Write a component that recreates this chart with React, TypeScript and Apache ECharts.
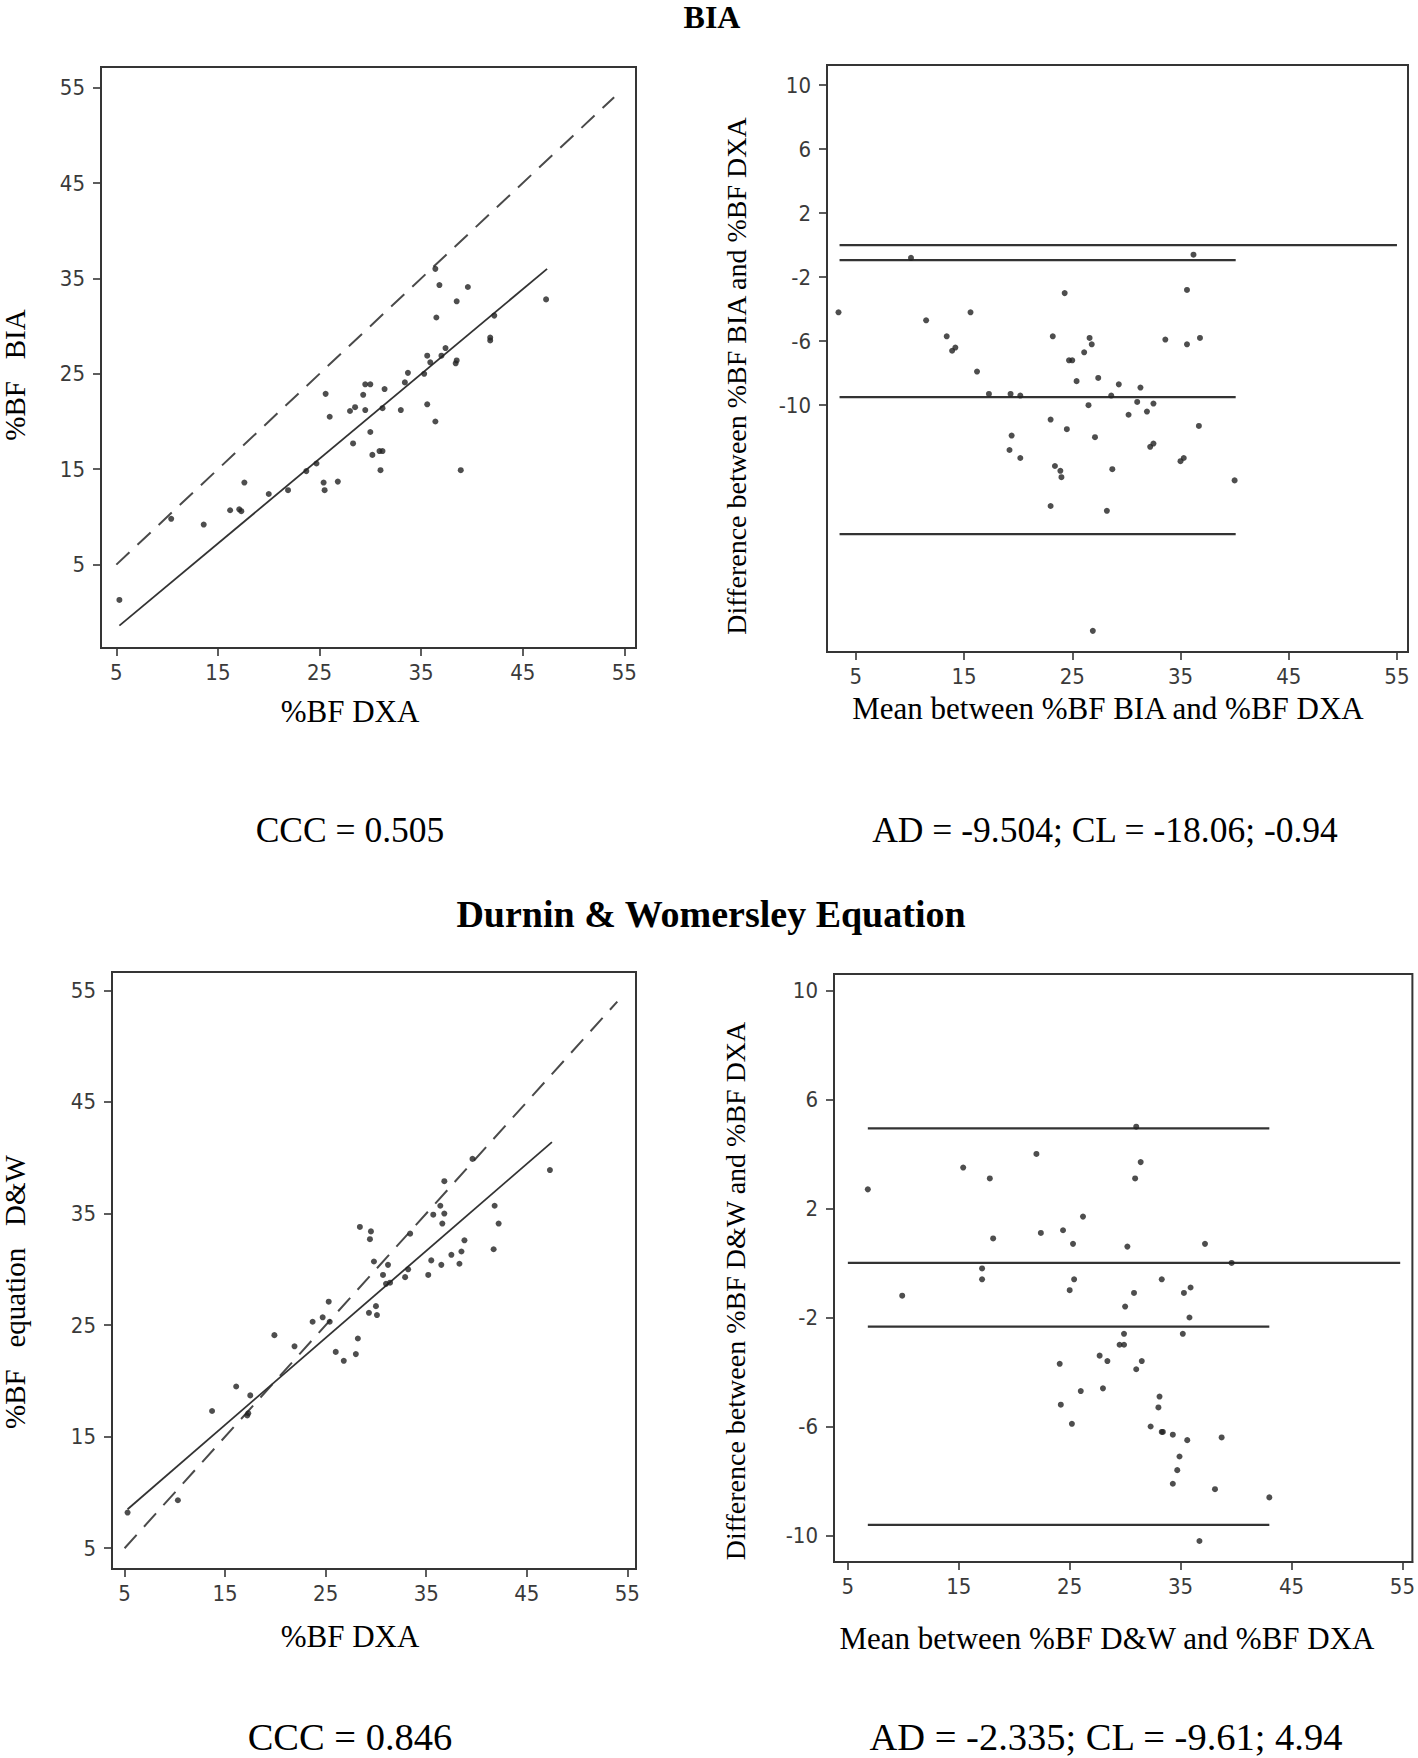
import React, { useEffect, useRef } from "react";
import * as echarts from "echarts";

// ---------- DATA ----------
const tickValuesBF = [5, 15, 25, 35, 45, 55];
const tickValuesBiaDiff = [-10, -6, -2, 2, 6, 10];
const tickValuesDwDiff = [-10, -6, -2, 2, 6, 10];

// Panel A: %BF DXA (x) vs %BF BIA (y)
const biaVsDxa: number[][] = [
  [5.3, 1.3], [10.4, 9.8], [13.6, 9.2], [16.2, 10.7], [17.1, 10.8], [17.3, 10.6], [17.6, 13.6],
  [20.0, 12.4], [21.9, 12.8], [23.7, 14.8], [24.7, 15.6], [25.4, 13.6], [25.5, 12.8], [26.8, 13.7],
  [25.6, 22.9], [26.0, 20.5], [28.0, 21.1], [28.5, 21.5], [28.3, 17.7], [29.3, 22.8], [29.5, 23.9],
  [30.0, 23.9], [29.5, 21.2], [30.0, 18.9], [30.2, 16.5], [30.9, 16.9], [31.2, 16.9], [31.0, 14.9],
  [31.4, 23.4], [31.2, 21.4], [33.0, 21.2], [33.4, 24.1], [33.7, 25.1], [35.3, 25.0], [35.6, 21.8],
  [35.6, 26.9], [35.9, 26.2], [36.4, 20.0], [36.4, 36.0], [36.5, 30.9], [36.8, 34.3], [37.0, 26.9],
  [37.4, 27.7], [38.4, 26.1], [38.5, 26.4], [38.5, 32.6], [38.9, 14.9], [39.6, 34.1], [41.8, 28.5],
  [41.8, 28.8], [42.2, 31.1], [47.3, 32.8],
];
const biaFitLine: number[][] = [[5.3, -1.4], [47.4, 36.0]];
const identityLine: number[][] = [[5, 5], [54, 54]];

// Panel B: Bland-Altman BIA
const biaBlandAltman: number[][] = [
  [3.4, -4.2], [10.1, -0.8], [11.5, -4.7], [13.4, -5.7], [13.9, -6.6], [14.2, -6.4], [15.6, -4.2],
  [16.2, -7.9], [17.3, -9.3], [19.3, -9.3], [20.2, -9.4], [19.4, -11.9], [19.2, -12.8], [20.2, -13.3],
  [23.0, -10.9], [23.0, -16.3], [23.2, -5.7], [23.4, -13.8], [23.9, -14.1], [24.0, -14.5], [24.3, -3.0],
  [24.5, -11.5], [24.7, -7.2], [25.0, -7.2], [25.4, -8.5], [26.1, -6.7], [26.5, -10.0], [26.6, -5.8],
  [26.8, -6.2], [26.9, -24.1], [27.1, -12.0], [27.4, -8.3], [28.2, -16.6], [28.6, -9.4], [28.7, -14.0],
  [29.3, -8.7], [30.2, -10.6], [31.0, -9.8], [31.3, -8.9], [31.9, -10.4], [32.2, -12.6], [32.5, -12.4],
  [32.5, -9.9], [33.6, -5.9], [35.0, -13.5], [35.3, -13.3], [35.6, -2.8], [35.6, -6.2], [36.2, -0.6],
  [36.7, -11.3], [36.8, -5.8], [40.0, -14.7],
];
const biaZeroRange = [3.5, 55];
const biaLimitRange = [3.5, 40.1];
const biaMeanDiff = -9.504;
const biaLowerLimit = -18.06;
const biaUpperLimit = -0.94;

// Panel C: %BF DXA (x) vs %BF D&W (y)
const dwVsDxa: number[][] = [
  [5.3, 8.2], [10.3, 9.3], [13.7, 17.3], [16.1, 19.5], [17.2, 16.9], [17.3, 17.1], [17.5, 18.7],
  [19.9, 24.1], [21.9, 23.1], [23.7, 25.3], [24.7, 25.7], [25.3, 27.1], [25.4, 25.3], [26.0, 22.6],
  [26.8, 21.8], [28.0, 22.4], [28.2, 23.8], [28.4, 33.8], [29.4, 32.7], [29.5, 33.4], [29.3, 26.1],
  [30.0, 26.7], [30.1, 25.9], [29.8, 30.7], [30.7, 29.5], [31.2, 30.4], [31.0, 28.7], [31.4, 28.8],
  [32.9, 29.3], [33.2, 30.0], [33.4, 33.2], [35.2, 29.5], [35.5, 30.8], [35.7, 34.9], [36.4, 35.7],
  [36.5, 30.4], [36.6, 34.1], [36.8, 35.0], [36.8, 37.9], [37.5, 31.3], [38.3, 30.5], [38.5, 31.6],
  [38.8, 32.6], [39.6, 39.9], [41.7, 31.8], [41.8, 35.7], [42.2, 34.1], [47.3, 38.9],
];
const dwFitLine: number[][] = [[5.3, 8.5], [47.5, 41.4]];

// Panel D: Bland-Altman D&W
const dwBlandAltman: number[][] = [
  [6.8, 2.7], [9.9, -1.2], [15.4, 3.5], [17.1, -0.2], [17.1, -0.6], [17.8, 3.1], [18.1, 0.9],
  [22.0, 4.0], [22.4, 1.1], [24.1, -3.7], [24.2, -5.2], [24.4, 1.2], [25.0, -1.0], [25.2, -5.9],
  [25.3, 0.7], [25.4, -0.6], [26.0, -4.7], [26.2, 1.7], [27.7, -3.4], [28.0, -4.6], [28.4, -3.6],
  [29.5, -3.0], [29.9, -2.6], [29.9, -3.0], [30.0, -1.6], [30.2, 0.6], [30.8, -1.1], [30.9, 3.1],
  [31.0, 5.0], [31.0, -3.9], [31.4, 3.7], [31.5, -3.6], [32.3, -6.0], [33.0, -5.3], [33.1, -4.9],
  [33.3, -0.6], [33.3, -6.2], [33.4, -6.2], [34.3, -6.3], [34.3, -8.1], [34.7, -7.6], [34.9, -7.1],
  [35.2, -2.6], [35.3, -1.1], [35.6, -6.5], [35.8, -2.0], [35.9, -0.9], [36.7, -10.2], [37.2, 0.7],
  [38.1, -8.3], [38.7, -6.4], [39.6, 0.0], [43.0, -8.6],
];
const dwZeroRange = [5, 54.8];
const dwLimitRange = [6.8, 43.0];
const dwMeanDiff = -2.335;
const dwLowerLimit = -9.61;
const dwUpperLimit = 4.94;

// ---------- STYLE / LAYOUT ----------
const W = 1418;
const H = 1758;
const SERIF = "'Liberation Serif', 'Times New Roman', serif";
const NARROW = "'Liberation Sans Narrow', 'DejaVu Sans Condensed', 'Arial Narrow', 'Liberation Sans', sans-serif";
const FRAME = "#353535";
const INK = "#222";

const grids = [
  { left: 101, top: 67, width: 535, height: 581 },
  { left: 827, top: 65, width: 581, height: 587 },
  { left: 112, top: 972, width: 524, height: 597 },
  { left: 834, top: 974, width: 582, height: 588 },
];
const xRanges = [[3.49, 56.15], [2.34, 56.02], [3.75, 55.86], [3.75, 55.9]];
const yRanges = [[-3.74, 57.16], [-25.42, 11.25], [3.14, 56.65], [-10.97, 10.6]];
const yTicks = [tickValuesBF, tickValuesBiaDiff, tickValuesBF, tickValuesDwDiff];

function hLine(range: number[], y: number): number[][] {
  return [[range[0], y], [range[1], y]];
}

function makeAxis(i: number, dim: "x" | "y") {
  const r = dim === "x" ? xRanges[i] : yRanges[i];
  const ticks = dim === "x" ? tickValuesBF : yTicks[i];
  return {
    type: "value",
    gridIndex: i,
    min: r[0],
    max: r[1],
    axisLine: { show: true, onZero: false, lineStyle: { color: FRAME, width: 2 } },
    axisTick: {
      show: true,
      inside: false,
      length: 8,
      customValues: ticks,
      lineStyle: { color: FRAME, width: 1.6 },
    },
    axisLabel: {
      show: true,
      customValues: ticks,
      margin: dim === "x" ? 13 : 16,
      fontSize: 22,
      fontFamily: NARROW,
      color: "#3a3a3a",
    },
    splitLine: { show: false },
  };
}

function scatter(i: number, data: number[][]) {
  return {
    type: "scatter",
    xAxisIndex: i,
    yAxisIndex: i,
    data,
    symbol: "circle",
    symbolSize: 6,
    itemStyle: { color: INK },
    z: 5,
  };
}

function line(i: number, data: number[][], dashed = false, width = 1.8) {
  return {
    type: "line",
    xAxisIndex: i,
    yAxisIndex: i,
    data,
    showSymbol: false,
    symbol: "none",
    lineStyle: {
      color: dashed ? "#4a4a4a" : "#333",
      width,
      type: dashed ? [18, 11] : "solid",
    },
    z: 3,
  };
}

function text(
  content: string,
  x: number,
  y: number,
  size: number,
  opts: { bold?: boolean; rotate?: boolean } = {}
) {
  return {
    type: "text",
    x,
    y,
    rotation: opts.rotate ? Math.PI / 2 : 0,
    style: {
      text: content,
      fontSize: size,
      fontFamily: SERIF,
      fontWeight: opts.bold ? "bold" : "normal",
      fill: "#000",
      align: "center",
      verticalAlign: "middle",
      textAlign: "center",
      textVerticalAlign: "middle",
    },
  };
}

const option = {
  animation: false,
  backgroundColor: "#ffffff",
  grid: grids.map((g) => ({
    ...g,
    show: true,
    borderColor: FRAME,
    borderWidth: 2,
    backgroundColor: "transparent",
    containLabel: false,
  })),
  xAxis: [0, 1, 2, 3].map((i) => makeAxis(i, "x")),
  yAxis: [0, 1, 2, 3].map((i) => makeAxis(i, "y")),
  series: [
    // Panel A
    line(0, identityLine, true, 2),
    line(0, biaFitLine, false, 1.8),
    scatter(0, biaVsDxa),
    // Panel B
    line(1, hLine(biaZeroRange, 0), false, 2.2),
    line(1, hLine(biaLimitRange, biaUpperLimit), false, 2.2),
    line(1, hLine(biaLimitRange, biaMeanDiff), false, 2.2),
    line(1, hLine(biaLimitRange, biaLowerLimit), false, 2.2),
    scatter(1, biaBlandAltman),
    // Panel C
    line(2, identityLine, true, 2),
    line(2, dwFitLine, false, 1.8),
    scatter(2, dwVsDxa),
    // Panel D
    line(3, hLine(dwZeroRange, 0), false, 2.2),
    line(3, hLine(dwLimitRange, dwUpperLimit), false, 2.2),
    line(3, hLine(dwLimitRange, dwMeanDiff), false, 2.2),
    line(3, hLine(dwLimitRange, dwLowerLimit), false, 2.2),
    scatter(3, dwBlandAltman),
  ],
  graphic: [
    text("BIA", 712, 17, 32, { bold: true }),
    text("%BF   BIA", 15, 375, 29, { rotate: true }),
    text("%BF DXA", 350, 711, 31),
    text("Difference between %BF BIA and %BF DXA", 736, 376, 28, { rotate: true }),
    text("Mean between %BF BIA and %BF DXA", 1108, 708, 31),
    text("CCC = 0.505", 350, 830, 35.5),
    text("AD = -9.504; CL = -18.06; -0.94", 1105, 830, 35.5),
    text("Durnin & Womersley Equation", 711, 914, 38, { bold: true }),
    text("%BF   equation   D&W", 15, 1292, 29, { rotate: true }),
    text("%BF DXA", 350, 1636, 31),
    text("Difference between %BF D&W and %BF DXA", 735, 1291, 28, { rotate: true }),
    text("Mean between %BF D&W and %BF DXA", 1107, 1638, 31),
    text("CCC = 0.846", 350, 1737, 38.5),
    text("AD = -2.335; CL = -9.61; 4.94", 1106, 1737, 38.5),
  ],
};

export default function App() {
  const ref = useRef<HTMLDivElement>(null);
  useEffect(() => {
    document.body.style.margin = "0";
    const chart = echarts.init(ref.current as HTMLDivElement, null, { renderer: "svg" });
    chart.setOption(option as any);
    return () => chart.dispose();
  }, []);
  return <div ref={ref} style={{ width: W, height: H }} />;
}
